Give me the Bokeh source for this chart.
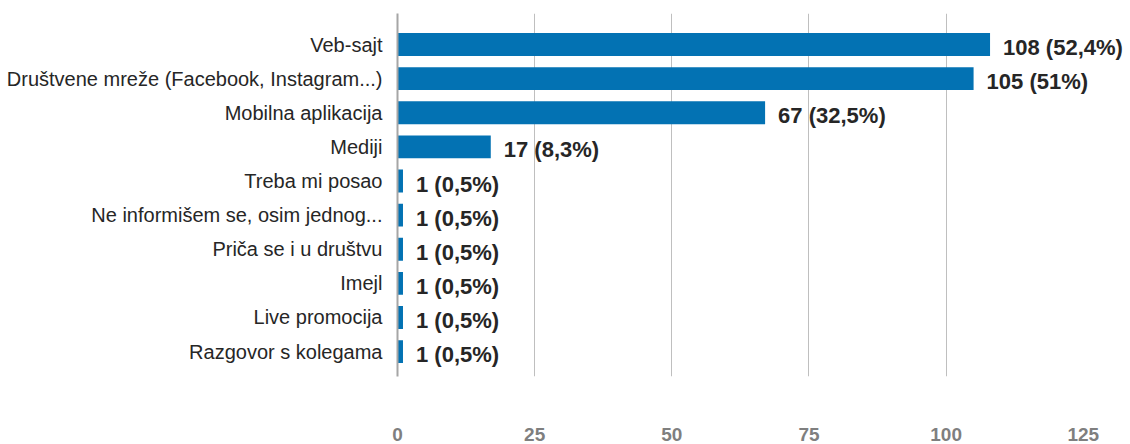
from bokeh.plotting import figure
from bokeh.models import ColumnDataSource, FixedTicker, Range1d
from bokeh.embed import file_html
from bokeh.resources import INLINE
from bokeh.core.properties import value

categories = [
    "Veb-sajt",
    "Društvene mreže (Facebook, Instagram...)",
    "Mobilna aplikacija",
    "Mediji",
    "Treba mi posao",
    "Ne informišem se, osim jednog...",
    "Priča se i u društvu",
    "Imejl",
    "Live promocija",
    "Razgovor s kolegama",
]
counts = [108, 105, 67, 17, 1, 1, 1, 1, 1, 1]
percents = ["52,4", "51", "32,5", "8,3", "0,5", "0,5", "0,5", "0,5", "0,5", "0,5"]
x_ticks = [0, 25, 50, 75, 100, 125]
grid_ticks = [25, 50, 75, 100]

n = len(categories)
ypos = [n - 1 - i for i in range(n)]
labels = [f"{c} ({p}%)" for c, p in zip(counts, percents)]

src = ColumnDataSource(dict(y=ypos, count=counts, label=labels, cat=categories))

p = figure(
    width=1130, height=444,
    output_backend="svg", toolbar_location=None,
    x_range=Range1d(0, 133.6), y_range=Range1d(-0.73, n - 1 + 0.91),
    min_border_left=397, min_border_right=0, min_border_top=13, min_border_bottom=68,
)
p.outline_line_color = None
p.background_fill_color = "white"
p.border_fill_color = "white"

p.hbar(y="y", right="count", left=0, height=0.67, source=src,
       fill_color="#0372B3", line_color=None)

p.text(x="count", y="y", text="label", source=src,
       x_offset=13, y_offset=3,
       text_font=value("Liberation Sans"), text_font_style="bold",
       text_font_size="22px", text_color="#262626",
       text_baseline="middle", text_align="left")

# x axis
xa = p.xaxis[0]
xa.ticker = FixedTicker(ticks=x_ticks)
xa.axis_line_color = None
xa.major_tick_line_color = None
xa.minor_tick_line_color = None
xa.major_label_standoff = 45
xa.major_label_text_font = "Liberation Sans"
xa.major_label_text_font_style = "bold"
xa.major_label_text_font_size = "19px"
xa.major_label_text_color = "#7f7f7f"

# y axis
ya = p.yaxis[0]
ya.ticker = FixedTicker(ticks=ypos)
ya.major_label_overrides = {y: c for y, c in zip(ypos, categories)}
ya.axis_line_color = "#a6a6a6"
ya.axis_line_width = 2
ya.major_tick_line_color = None
ya.minor_tick_line_color = None
ya.major_label_standoff = 9
ya.major_label_text_font = "Liberation Sans"
ya.major_label_text_font_size = "20px"
ya.major_label_text_color = "#262626"

p.ygrid.grid_line_color = None
p.xgrid.ticker = FixedTicker(ticks=grid_ticks)
p.xgrid.grid_line_color = "#bfbfbf"
p.xgrid.grid_line_width = 1

open("out.html", "w").write(file_html(p, INLINE))
